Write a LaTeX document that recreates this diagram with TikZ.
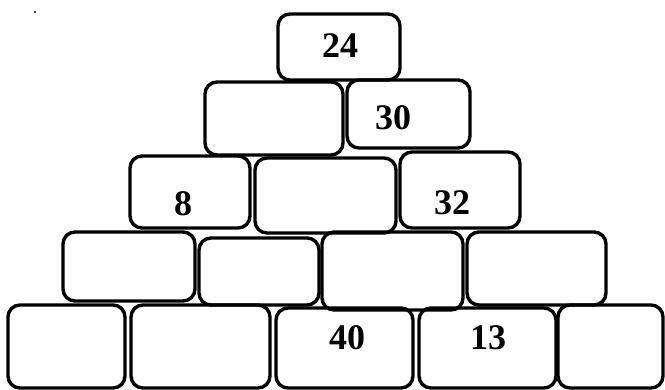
\documentclass[tikz,border=0pt]{standalone}
\usepackage{fontspec}
\setmainfont{Liberation Serif}
\usepackage{tikz}

\begin{document}
\begin{tikzpicture}[x=0.5pt, y=-0.5pt,
  brick/.style={draw, line width=1.7pt, rounded corners=6pt, inner sep=0pt},
  num/.style={font=\fontsize{18}{18}\selectfont\bfseries, inner sep=0pt}]
  \useasboundingbox (0,0) rectangle (665,390);
  % row 1
  \node[brick,minimum width=61pt,minimum height=33pt] (r1) at (339,47) {};
  % row 2
  \node[brick,minimum width=69pt,minimum height=36.5pt] (r2a) at (274,118.5) {};
  \node[brick,minimum width=61.5pt,minimum height=34pt] (r2b) at (408.5,114) {};
  % row 3
  \node[brick,minimum width=60pt,minimum height=36pt] (r3a) at (190,192) {};
  \node[brick,minimum width=70.5pt,minimum height=37.5pt] (r3b) at (325.5,195.5) {};
  \node[brick,minimum width=60pt,minimum height=38pt] (r3c) at (460,190) {};
  % row 4
  \node[brick,minimum width=66pt,minimum height=34.5pt] (r4a) at (129,266.5) {};
  \node[brick,minimum width=60pt,minimum height=33.5pt] (r4b) at (259,271.5) {};
  \node[brick,minimum width=70.5pt,minimum height=39pt] (r4c) at (392.5,271) {};
  \node[brick,minimum width=69.5pt,minimum height=36.5pt] (r4d) at (536.5,268.5) {};
  % row 5
  \node[brick,minimum width=58.5pt,minimum height=41.5pt] (r5a) at (66.5,346.5) {};
  \node[brick,minimum width=69.5pt,minimum height=41.5pt] (r5b) at (200.5,346.5) {};
  \node[brick,minimum width=68.5pt,minimum height=40pt] (r5c) at (344.5,348) {};
  \node[brick,minimum width=68.5pt,minimum height=40pt] (r5d) at (487.5,348) {};
  \node[brick,minimum width=52.5pt,minimum height=41.5pt] (r5e) at (610.5,346.5) {};
  % numbers
  \node[num] (n24) at (340,46) {24};
  \node[num] (n30) at (393,118) {30};
  \node[num] (n8) at (183,203.5) {8};
  \node[num] (n32) at (452,203) {32};
  \node[num] (n40) at (347,338) {40};
  \node[num] (n13) at (488,338) {13};
  % stray dot
  \fill (35,12) circle (1.2);
\end{tikzpicture}
\end{document}
